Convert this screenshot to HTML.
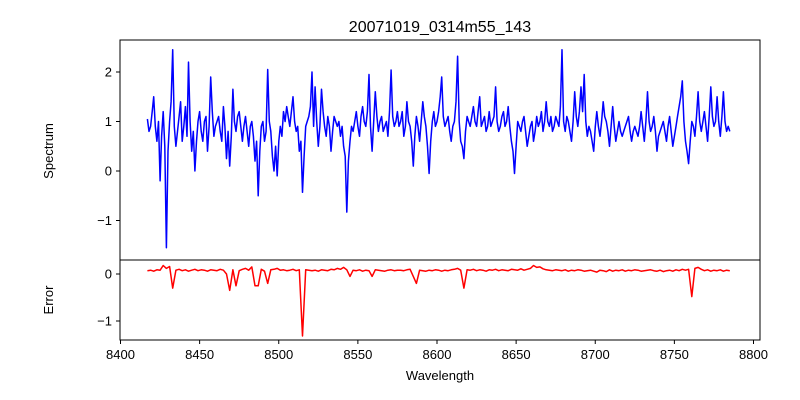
<!DOCTYPE html>
<html><head><meta charset="utf-8"><style>
body{margin:0;background:#fff}
svg{display:block;font-family:"Liberation Sans","DejaVu Sans",sans-serif}
</style></head><body>
<svg id="fig" width="800" height="400">
<text x="440" y="32" text-anchor="middle" font-size="16">20071019_0314m55_143</text>
<text transform="translate(53,151) rotate(-90)" text-anchor="middle" font-size="13">Spectrum</text>
<text transform="translate(53,300) rotate(-90)" text-anchor="middle" font-size="13">Error</text>
<text x="440" y="380" text-anchor="middle" font-size="13">Wavelength</text>
</svg>
<script>
const wlStart = 8417, wlStep = 1;
const errStart = 8417, errStep = 2;
const spectrum = [1.05,0.8,0.9,1.2,1.5,0.9,0.6,1.0,-0.2,0.7,1.2,0.5,-1.55,0.4,1.0,1.4,2.45,0.9,0.5,0.8,
1.1,1.4,0.6,0.9,1.3,0.7,2.2,1.0,0.4,0.8,0.0,0.6,1.0,1.2,0.8,0.6,1.0,1.1,0.4,0.9,
1.9,1.2,0.7,0.9,1.0,1.1,0.8,0.6,1.3,0.9,0.25,0.8,0.1,0.7,1.65,1.0,0.8,1.1,1.2,0.9,
0.6,0.9,1.1,0.8,0.5,0.9,1.0,0.7,0.2,0.6,-0.5,0.4,0.9,1.0,0.6,0.8,2.05,1.0,0.8,0.3,
0.0,0.5,-0.1,0.6,0.9,0.7,1.2,1.0,1.3,1.1,0.9,1.2,1.5,1.0,0.8,0.9,0.4,0.6,-0.43,0.3,
0.9,1.0,1.1,1.3,2.0,0.9,1.7,1.0,0.5,0.9,1.65,1.2,0.9,0.7,1.1,0.9,0.4,0.8,1.1,1.0,
0.9,1.0,0.7,0.9,0.5,0.3,-0.83,0.2,0.6,0.9,0.8,1.0,1.2,0.9,0.7,1.1,1.3,1.0,0.9,1.2,
1.95,0.9,0.4,1.0,1.6,1.1,0.8,1.0,1.1,0.8,0.9,1.0,0.7,1.2,2.04,1.1,0.9,1.0,1.2,0.9,
1.0,1.2,0.7,0.9,1.4,1.0,0.9,0.6,0.1,0.7,1.1,0.9,0.6,1.0,1.4,1.1,0.9,0.5,-0.05,0.6,
1.0,1.2,0.9,1.0,1.2,1.5,1.9,1.1,0.9,1.0,1.1,0.8,0.6,0.9,1.0,1.4,2.32,1.0,0.6,0.5,
0.25,0.8,1.1,1.0,0.9,1.1,1.3,1.0,0.9,1.2,1.5,0.9,1.0,1.1,0.8,0.9,1.2,0.9,1.0,1.1,
1.7,1.0,0.8,0.9,1.1,1.2,0.9,1.0,1.3,0.9,0.6,0.4,-0.05,0.5,1.0,0.9,0.8,1.0,1.1,0.8,
0.5,0.7,0.9,1.0,0.6,0.8,1.1,0.9,1.0,1.2,0.8,1.0,1.4,1.0,0.9,1.1,0.8,0.9,1.1,1.0,
0.9,1.3,2.45,1.0,0.8,1.1,1.0,0.8,0.6,1.0,1.6,1.1,0.9,1.2,1.7,1.2,1.95,1.0,0.7,0.9,
0.8,0.6,0.4,0.9,1.2,0.9,0.7,1.0,1.4,1.1,1.0,0.8,0.5,0.9,1.3,0.9,0.6,0.8,1.0,0.8,
0.7,0.8,0.9,1.0,1.1,0.8,0.6,0.8,0.9,0.8,0.7,0.9,1.2,0.9,0.6,1.0,1.6,1.0,0.8,0.9,
1.1,0.8,0.4,0.7,0.8,0.9,1.0,0.8,0.6,0.9,1.1,0.8,0.5,0.7,0.9,1.1,1.3,1.5,1.82,1.0,
0.6,0.4,0.15,0.6,1.0,0.9,0.7,1.1,1.6,1.0,0.8,1.0,1.2,0.9,0.6,1.1,1.7,1.1,0.9,1.0,
1.5,1.0,0.7,1.1,1.6,1.0,0.8,0.9,0.8];
const errorVals = [0.07,0.08,0.06,0.09,0.08,0.18,0.12,0.16,-0.3,0.08,
0.1,0.07,0.09,0.06,0.08,0.1,0.07,0.09,0.08,0.06,
0.09,0.08,0.07,0.1,0.08,0.0,-0.35,0.09,-0.25,0.07,
0.1,0.12,0.08,0.15,-0.25,-0.25,0.1,0.06,-0.2,0.09,
0.1,0.12,0.08,0.09,0.07,0.08,0.1,0.07,0.09,-1.32,
0.09,0.08,0.07,0.08,0.06,0.09,0.08,0.07,0.1,0.09,
0.12,0.1,0.14,0.09,-0.05,0.08,0.07,0.09,0.06,0.08,
0.07,-0.05,0.09,0.08,0.07,0.06,0.08,0.09,0.07,0.08,
0.08,0.07,0.09,0.1,-0.05,-0.2,0.08,0.07,0.06,0.08,
0.07,0.09,0.08,0.06,0.08,0.07,0.09,0.1,0.12,0.08,
-0.3,0.09,0.08,0.1,0.07,0.09,0.08,0.06,0.09,0.08,
0.1,0.07,0.09,0.08,0.07,0.1,0.09,0.08,0.11,0.08,
0.1,0.12,0.18,0.14,0.15,0.11,0.09,0.08,0.07,0.09,
0.08,0.07,0.09,0.06,0.08,0.07,0.09,0.08,0.06,0.07,
0.08,0.06,0.04,0.08,0.07,0.05,0.09,0.06,0.08,0.07,
0.09,0.06,0.08,0.07,0.09,0.08,0.06,0.07,0.08,0.09,
0.07,0.06,0.08,0.05,0.07,0.08,0.06,0.09,0.07,0.1,
0.08,0.1,-0.48,0.12,0.14,0.1,0.07,0.09,0.06,0.08,
0.07,0.09,0.06,0.08,0.07];
const xTicks = [8400,8450,8500,8550,8600,8650,8700,8750,8800];
const specTicks = [-1,0,1,2];
const errTicks = [-1,0];

const NS = 'http://www.w3.org/2000/svg';
const svg = document.getElementById('fig');
function mk(tag, attrs){const e=document.createElementNS(NS,tag);for(const k in attrs)e.setAttribute(k,attrs[k]);svg.appendChild(e);return e;}
const L=120, R=760;
const xS = w => 120.5 + (w-8400)*1.5825;
const ySpec = v => 171 - v*49.5;
const yErr = v => 274 - v*47;

function line(vals, start, step, yf, color, name){
  const pts = vals.map((v,i)=>xS(start+i*step).toFixed(1)+','+yf(v).toFixed(1)).join(' ');
  const p = mk('polyline',{points:pts,fill:'none',stroke:color,'stroke-width':1.5,'stroke-linejoin':'round'});
  
  
}
line(spectrum, wlStart, wlStep, ySpec, '#0000ff', 'spectrum-line');
line(errorVals, errStart, errStep, yErr, '#ff0000', 'error-line');

const f1 = mk('rect',{x:L,y:40,width:R-L,height:220,fill:'none',stroke:'#000','stroke-width':1});


const f2 = mk('rect',{x:L,y:260,width:R-L,height:80,fill:'none',stroke:'#000','stroke-width':1});



specTicks.forEach(t=>{
  const y=ySpec(t);
  mk('line',{x1:L-4,x2:L,y1:y,y2:y,stroke:'#000'});
  const tx=mk('text',{x:L-8,y:y+4.5,'text-anchor':'end','font-size':13});
  tx.textContent = t<0?'\u2212'+(-t):t;
  
  
});
errTicks.forEach(t=>{
  const y=yErr(t);
  mk('line',{x1:L-4,x2:L,y1:y,y2:y,stroke:'#000'});
  const tx=mk('text',{x:L-8,y:y+4.5,'text-anchor':'end','font-size':13});
  tx.textContent = t<0?'\u2212'+(-t):t;
  
  
});
xTicks.forEach(t=>{
  const x=xS(t);
  mk('line',{x1:x,x2:x,y1:340,y2:344,stroke:'#000'});
  const tx=mk('text',{x:x,y:359,'text-anchor':'middle','font-size':13});
  tx.textContent = t;
  
  
});
</script>
</body></html>
